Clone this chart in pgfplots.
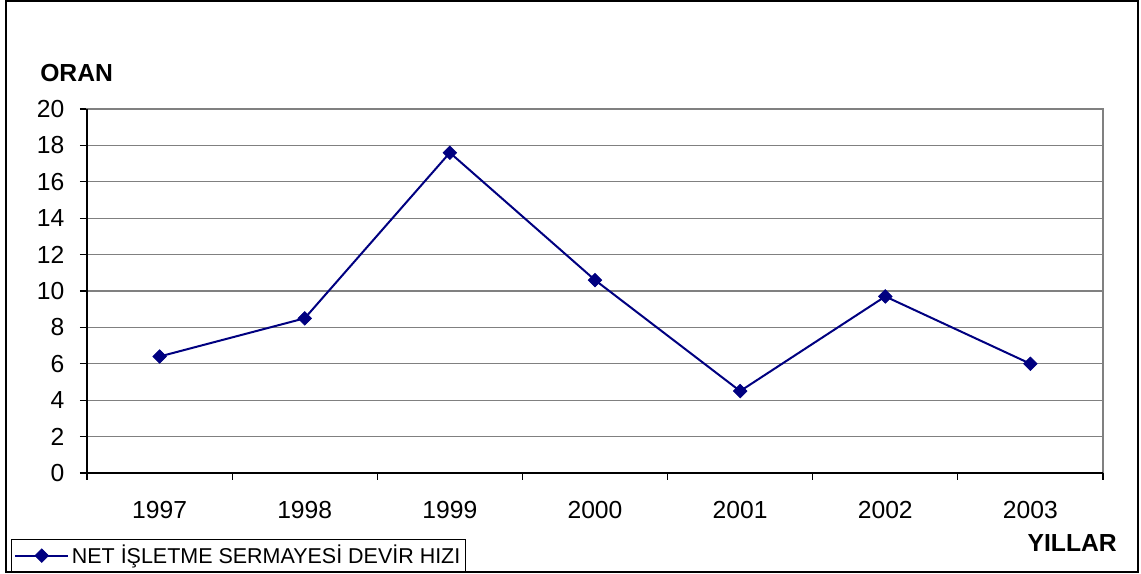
\documentclass[border=0pt]{standalone}
\usepackage{pgfplots}
\pgfplotsset{compat=1.18}
\usepackage{fontspec}
\setmainfont{Liberation Sans}
\definecolor{navy}{RGB}{0,0,128}
\definecolor{gridgray}{RGB}{128,128,128}
\newcommand{\px}{*0.75pt}
\begin{document}
\begin{tikzpicture}
\useasboundingbox (0,0) rectangle (1141\px,574\px);
\draw[line width=1.5pt] (6\px,2\px) rectangle (1138\px,573\px);
\begin{axis}[
  at={(87\px,101\px)}, anchor=origin,
  scale only axis, width=1016\px, height=364\px,
  xmin=0, xmax=7, ymin=0, ymax=20,
  ytick={0,2,...,20},
  xtick={0.5,1.5,...,6.5},
  xticklabels={1997,1998,1999,2000,2001,2002,2003},
  xtick style={draw=none},
  ytick pos=left,
  ytick style={black, line width=0.8pt},
  tick align=outside, major tick length=5.25pt,
  ymajorgrids, grid style={gridgray, line width=1pt},
  axis line style={gridgray, line width=1pt},
  ticklabel style={font=\fontsize{18.5}{21}\selectfont},
  /pgf/number format/assume math mode=true,
  xticklabel style={yshift=-17\px},
  yticklabel style={xshift=-11\px},
  clip=false,
  legend style={at={(rel axis cs:-0.0748,-0.2734)}, anchor=south west,
    draw=black, line width=0.8pt, fill=white, inner xsep=2pt, inner ysep=2.5pt,
    font=\fontsize{16.1}{19}\selectfont, legend cell align=left},
  legend image code/.code={\draw[mark repeat=2,mark phase=2] plot coordinates {(0pt,0pt)(19.9pt,0pt)(39.75pt,0pt)};},
]
\draw[black, line width=1.2pt] (rel axis cs:0,1) -- (rel axis cs:0,0) -- (rel axis cs:1,0);
\pgfplotsinvokeforeach{0,...,7}{\draw[black, line width=0.8pt] (axis cs:#1,0) -- ++(0,-5.25pt);}
\addplot[navy, line width=1.5pt, mark=square*, mark size=3.6pt, mark options={fill=navy, line width=0.5pt, rotate=45}]
  coordinates {(0.5,6.4) (1.5,8.5) (2.5,17.6) (3.5,10.6) (4.5,4.5) (5.5,9.7) (6.5,6.0)};
\addlegendentry{NET İŞLETME SERMAYESİ DEVİR HIZI}
\end{axis}
\node[anchor=west, font=\fontsize{18.5}{21}\selectfont\bfseries, inner sep=0pt] at (40\px,501\px) {ORAN};
\node[anchor=east, font=\fontsize{18.5}{21}\selectfont\bfseries, inner sep=0pt] at (1117\px,31\px) {YILLAR};
\end{tikzpicture}
\end{document}
